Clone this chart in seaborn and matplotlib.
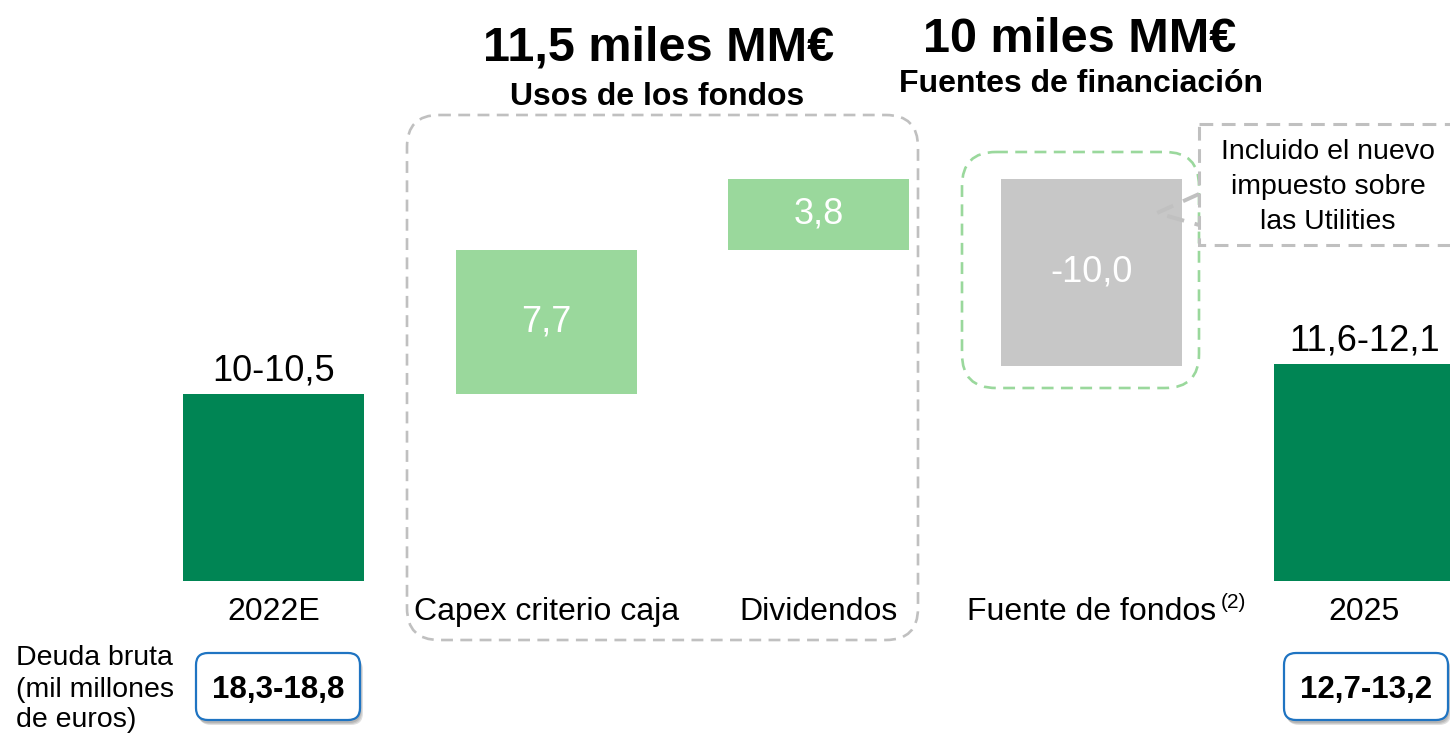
import matplotlib
matplotlib.use("Agg")
import matplotlib.pyplot as plt
import matplotlib.transforms as mtransforms
from matplotlib.patches import FancyBboxPatch, Rectangle
from matplotlib.lines import Line2D
import pandas as pd
import seaborn as sns

# data
categories = ["2022E", "Capex criterio caja", "Dividendos", "Fuente de fondos", "2025"]
start_value = 10.0
changes = [7.7, 3.8, -10.0]
end_value = 11.6
value_labels = ["10-10,5", "7,7", "3,8", "-10,0", "11,6-12,1"]
debt_labels = ["18,3-18,8", "12,7-13,2"]
uses_title = "11,5 miles MM€"
sources_title = "10 miles MM€"

dark_green = "#008554"
light_green = "#9AD89C"
grey_bar = "#C7C7C7"
dash_grey = "#C0C0C0"
box_blue = "#1F74C2"

# waterfall -> floating bars
bottoms = [0.0]
heights = [start_value]
level = start_value
for c in changes:
    bottoms.append(level if c > 0 else level + c)
    heights.append(abs(c))
    level += c
bottoms.append(0.0)
heights.append(end_value)
colors = [dark_green, light_green, light_green, grey_bar, dark_green]

df = pd.DataFrame({"cat": categories, "height": heights, "bottom": bottoms})

W, H = 1450, 735
sns.set_theme(style="white")
plt.rcParams["font.family"] = ["Liberation Sans", "DejaVu Sans"]
plt.rcParams["text.color"] = "black"

fig = plt.figure(figsize=(W / 100, H / 100), dpi=100)
ax = fig.add_axes([0, 0, 1, 1])
sns.barplot(data=df, x="cat", y="height", order=categories,
            bottom=df["bottom"].to_numpy(), width=0.664, color=dark_green,
            saturation=1, ax=ax)
for patch, col in zip(ax.patches, colors):
    patch.set_facecolor(col)
    patch.set_edgecolor("none")

ax.set_xlim(-1.003, 4.314)
ax.set_ylim(-8.235, 31.07)
ax.set_axis_off()

# pixel coords, origin top-left
px = mtransforms.Affine2D().scale(1, -1).translate(0, H)
xpx = mtransforms.blended_transform_factory(ax.transData, px)
dash = (0, (4.5, 2.8))

# value labels
for i, (b, h, lab) in enumerate(zip(bottoms, heights, value_labels)):
    if i in (0, len(categories) - 1):
        ax.annotate(lab, xy=(i, b + h), xytext=(0, 10), textcoords="offset points",
                    ha="center", va="baseline", fontsize=26, color="black")
    else:
        ax.text(i, b + h / 2, lab, ha="center", va="center", fontsize=26, color="white")

# category labels
cat_texts = []
for i, cat in enumerate(categories):
    t = ax.text(i, 620, cat, transform=xpx, ha="center", va="baseline", fontsize=23)
    cat_texts.append(t)
ax.annotate("(2)", xy=(1, 0), xycoords=cat_texts[3], xytext=(3, 14),
            textcoords="offset points", ha="left", va="baseline", fontsize=15)

# titles
fig.text(659, 61, uses_title, transform=px, ha="center", va="baseline",
         fontsize=35, fontweight="bold")
fig.text(657, 105, "Usos de los fondos", transform=px, ha="center", va="baseline",
         fontsize=23, fontweight="bold")
fig.text(1080, 52, sources_title, transform=px, ha="center", va="baseline",
         fontsize=35, fontweight="bold")
fig.text(1081, 92, "Fuentes de financiación", transform=px, ha="center", va="baseline",
         fontsize=23, fontweight="bold")

# dashed groups
fig.add_artist(FancyBboxPatch((407, 115), 511, 525, boxstyle="round,pad=0,rounding_size=32",
                              transform=px, fill=False, edgecolor=dash_grey, lw=1.9, ls=dash))
fig.add_artist(FancyBboxPatch((962, 152), 237, 236, boxstyle="round,pad=0,rounding_size=34",
                              transform=px, fill=False, edgecolor=light_green, lw=1.9, ls=dash))

# callout
fig.add_artist(Rectangle((1199, 124), 320, 121, transform=px, fill=False,
                         edgecolor=dash_grey, lw=2.2, ls=dash))
fig.add_artist(Line2D([1199, 1157, 1199], [194, 213, 225], transform=px,
                      color=dash_grey, lw=2.8, ls=dash))
fig.text(1328, 187, "Incluido el nuevo\nimpuesto sobre\nlas Utilities", transform=px,
         ha="center", va="center", fontsize=20.5, linespacing=1.45)

# gross debt boxes
for yb, line in zip([665, 697, 727], ["Deuda bruta", "(mil millones", "de euros)"]):
    fig.text(16, yb, line, transform=px, ha="left", va="baseline", fontsize=20.5)
for cx, lab in zip([278, 1366], debt_labels):
    x0, y0, w, h = cx - 82, 653, 164, 67
    for k, a in enumerate([0.10, 0.10, 0.12]):
        fig.add_artist(FancyBboxPatch((x0 + 1 + k, y0 + 3 + k), w, h,
                                      boxstyle="round,pad=0,rounding_size=12", transform=px,
                                      facecolor="black", edgecolor="none", alpha=a))
    fig.add_artist(FancyBboxPatch((x0, y0), w, h, boxstyle="round,pad=0,rounding_size=12",
                                  transform=px, facecolor="white", edgecolor=box_blue, lw=1.6))
    fig.text(cx, y0 + h / 2, lab, transform=px, ha="center", va="center_baseline",
             fontsize=22.5, fontweight="bold")

fig.savefig("out.png", dpi=100, facecolor="white")
